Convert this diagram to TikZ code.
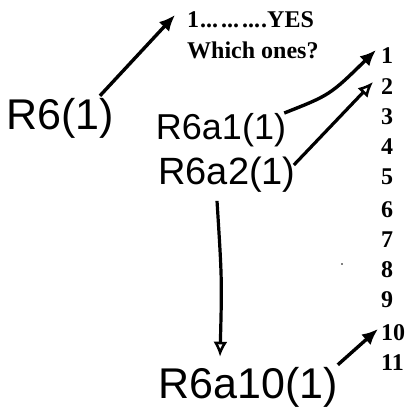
\documentclass[tikz,border=0pt]{standalone}
\usepackage{fontspec}
\setmainfont{Liberation Serif}
\newfontfamily\hand{Liberation Sans}
\usetikzlibrary{arrows.meta,calc}
\begin{document}
\begin{tikzpicture}[x=1pt,y=-1pt,
  printed/.style={font=\fontsize{24}{26}\selectfont\bfseries, inner sep=0pt, anchor=west},
  num/.style={font=\fontsize{24}{26}\selectfont\bfseries, inner sep=0pt, anchor=west},
  handw/.style={font=\hand\fontsize{#1}{#1}\selectfont, inner sep=0pt},
  arr/.style={line width=3.4pt, -{Latex[length=16pt,width=14pt]}},
  arro/.style={line width=3.2pt, -{Latex[open,length=15pt,width=14pt,line width=2.5pt]}}]
\useasboundingbox (0,0) rectangle (413,414);
\node[printed] (yes) at (187,20) {1\hspace{1pt}...\hspace{3pt}...\hspace{3pt}...\hspace{1pt}.YES};
\node[printed] (which) at (187,50) {Which ones?};
\foreach \i/\y in {1/56,2/87,3/117,4/147,5/177,6/210,7/240,8/270,9/300,10/333,11/363}
  \node[num] (n\i) at (381,\y) {\i};
\node[handw=43] (r6) at (60,118) {R6(1)};
\node[handw=36] (r6a1) at (221,130) {R6a1(1)};
\node[handw=38] (r6a2) at (227,175) {R6a2(1)};
\node[handw=43] (r6a10) at (248,387) {R6a10(1)};
\fill (342,264) circle (0.9pt);
\draw[arr] ($(r6.north east)+(-14,-2)$) -- ($(yes.west)+(-12,-5)$);
\draw[arr] ($(r6a1.north east)+(-2,0)$) .. controls (330,95) .. ($(n1.west)+(-5,-6)$);
\draw[arro] ($(r6a2.east)+(-2,-10)$) -- ($(n2.west)+(-8,-5)$);
\draw[arro] ($(r6a2.south)+(-10,8)$) .. controls (222,280) .. ($(r6a10.north)+(-28,-10)$);
\draw[arr] ($(r6a10.north east)+(0,-2)$) -- ($(n10.west)+(-3,-4)$);
\end{tikzpicture}
\end{document}
